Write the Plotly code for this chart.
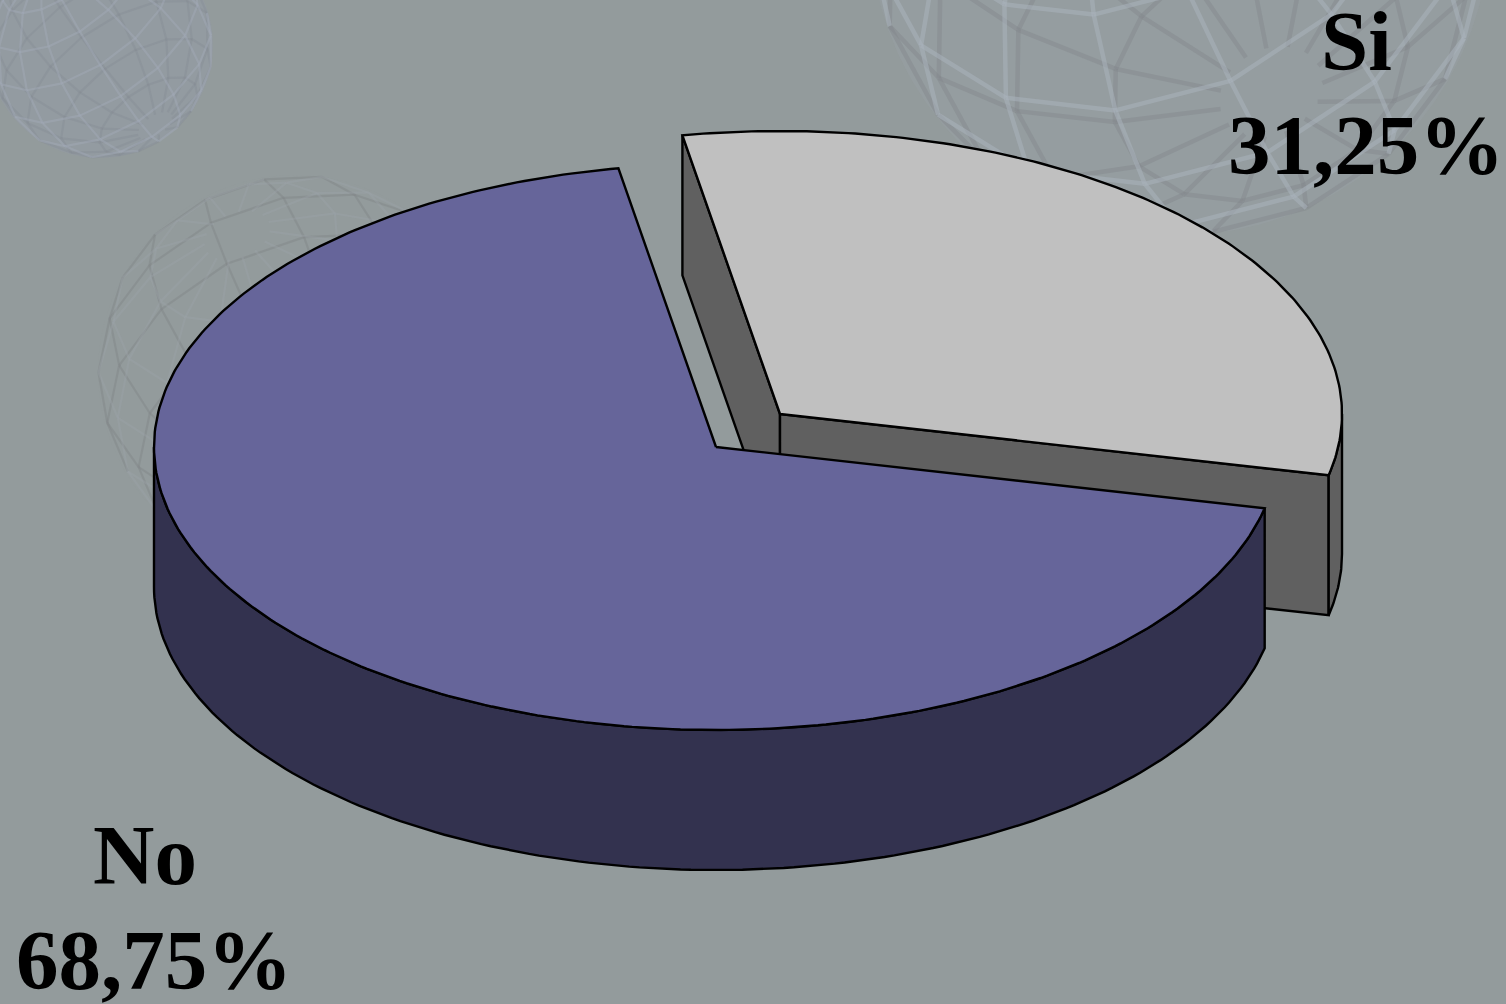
import numpy as np
import plotly.graph_objects as go

labels = ["No", "Si"]
values = [68.75, 31.25]
top_colors = ["#66659A", "#C0C0C0"]
side_colors = ["#33324F", "#606060"]
centers = [(716, 447), (780, 414)]
label_pos = [((145, 855), (154, 960)), ((1356, 41), (1366, 145))]

W, H = 1506, 1004
BG = "#939B9C"
RX, RY, DEPTH = 562, 283, 140
START = 100.0
EDGE = 2.4


def arc(c, t0, t1, dy=0, n=160):
    t = np.radians(np.linspace(t0, t1, n))
    return c[0] + RX * np.cos(t), c[1] - RY * np.sin(t) + dy


def poly(fig, x, y, color, lw=EDGE):
    fig.add_trace(go.Scatter(x=list(x) + [x[0]], y=list(y) + [y[0]], mode="lines", fill="toself",
                             fillcolor=color, line=dict(color="black", width=lw),
                             hoverinfo="skip", showlegend=False))


def sphere(fig, cx, cy, r, rot, tilt, light, dark, tint, w):
    """Faint wire-frame globes of the slide background."""
    ca, sa, cb, sb = np.cos(rot), np.sin(rot), np.cos(tilt), np.sin(tilt)

    def proj(lat, lon):
        x0 = np.cos(lat) * np.cos(lon)
        y0 = np.sin(lat)
        z0 = np.cos(lat) * np.sin(lon)
        y1 = y0 * cb - z0 * sb
        z1 = y0 * sb + z0 * cb
        x2 = x0 * ca - y1 * sa
        y2 = x0 * sa + y1 * ca
        return cx + r * x2, cy - r * y2, z1

    t = np.radians(np.arange(0, 361, 5))
    fig.add_trace(go.Scatter(x=cx + r * np.cos(t), y=cy + r * np.sin(t), mode="none", fill="toself",
                             fillcolor=tint, hoverinfo="skip", showlegend=False))
    paths = []
    for lon in np.radians(np.arange(0, 360, 24)):
        lat = np.radians(np.arange(-80, 81, 20))
        paths.append((lat, np.full_like(lat, lon)))
    for la in np.radians(np.arange(-60, 61, 20)):
        lon = np.radians(np.arange(0, 361, 24))
        paths.append((np.full_like(lon, la), lon))
    bx, by, fx, fy = [], [], [], []
    for lat, lon in paths:
        x, y, z = proj(lat, lon)
        for i in range(len(x) - 1):
            if (z[i] + z[i + 1]) >= 0:
                fx += [x[i], x[i + 1], None]
                fy += [y[i], y[i + 1], None]
            else:
                bx += [x[i], x[i + 1], None]
                by += [y[i], y[i + 1], None]
    fig.add_trace(go.Scatter(x=bx, y=by, mode="lines", line=dict(color=dark, width=w),
                             hoverinfo="skip", showlegend=False))
    fig.add_trace(go.Scatter(x=fx, y=fy, mode="lines", line=dict(color=light, width=w),
                             hoverinfo="skip", showlegend=False))


fig = go.Figure()
sphere(fig, 100, 45, 113, 0.6, 0.5, "rgba(165,172,188,0.40)", "rgba(133,137,146,0.35)",
       "rgba(150,156,172,0.30)", 2.2)
sphere(fig, 295, 372, 197, 0.4, 0.7, "rgba(160,167,172,0.30)", "rgba(128,133,135,0.45)",
       "rgba(150,156,160,0.12)", 2.2)
sphere(fig, 1180, -75, 310, 0.5, 0.9, "rgba(170,178,188,0.55)", "rgba(130,136,140,0.45)",
       "rgba(155,163,170,0.30)", 4.5)

total = sum(values)
sweep_no = values[0] / total * 360
end_no = START + sweep_no

# exploded "Si" wedge, drawn first because the "No" wedge overlaps it
c = centers[1]
si_t0, si_t1 = end_no - 360, START
px0, py0 = arc(c, si_t1, si_t1, n=1)
px1, py1 = arc(c, si_t0, si_t0, n=1)
poly(fig, [c[0], px0[0], px0[0], c[0]], [c[1], py0[0], py0[0] + DEPTH, c[1] + DEPTH], side_colors[1])
poly(fig, [c[0], px1[0], px1[0], c[0]], [c[1], py1[0], py1[0] + DEPTH, c[1] + DEPTH], side_colors[1])
ax, ay = arc(c, si_t0, 0, n=30)
poly(fig, np.r_[ax, ax[::-1]], np.r_[ay, ay[::-1] + DEPTH], side_colors[1])
ax, ay = arc(c, si_t0, si_t1)
poly(fig, np.r_[c[0], ax], np.r_[c[1], ay], top_colors[1])

# "No" wedge
c = centers[0]
ax, ay = arc(c, 180, end_no)
poly(fig, np.r_[ax, ax[::-1]], np.r_[ay, ay[::-1] + DEPTH], side_colors[0])
ax, ay = arc(c, START, end_no, n=300)
poly(fig, np.r_[c[0], ax], np.r_[c[1], ay], top_colors[0])

for lab, val, (p1, p2) in zip(labels, values, label_pos):
    pct = f"{val:.2f}".replace(".", ",") + "%"
    for text, (x, y) in ((lab, p1), (pct, p2)):
        fig.add_annotation(x=x, y=y, text=f"<b>{text}</b>", showarrow=False, xanchor="center", yanchor="middle",
                           font=dict(family="Liberation Serif", size=85, color="black"))

fig.update_layout(width=W, height=H, margin=dict(l=0, r=0, t=0, b=0), paper_bgcolor=BG, plot_bgcolor=BG,
                  showlegend=False,
                  xaxis=dict(range=[0, W], visible=False, fixedrange=True),
                  yaxis=dict(range=[H, 0], visible=False, fixedrange=True))
fig.write_html("out.html", config={"displayModeBar": False},
               post_script="document.body.style.margin='0';document.body.style.overflow='hidden';"
                           "document.body.style.background='" + BG + "';")
